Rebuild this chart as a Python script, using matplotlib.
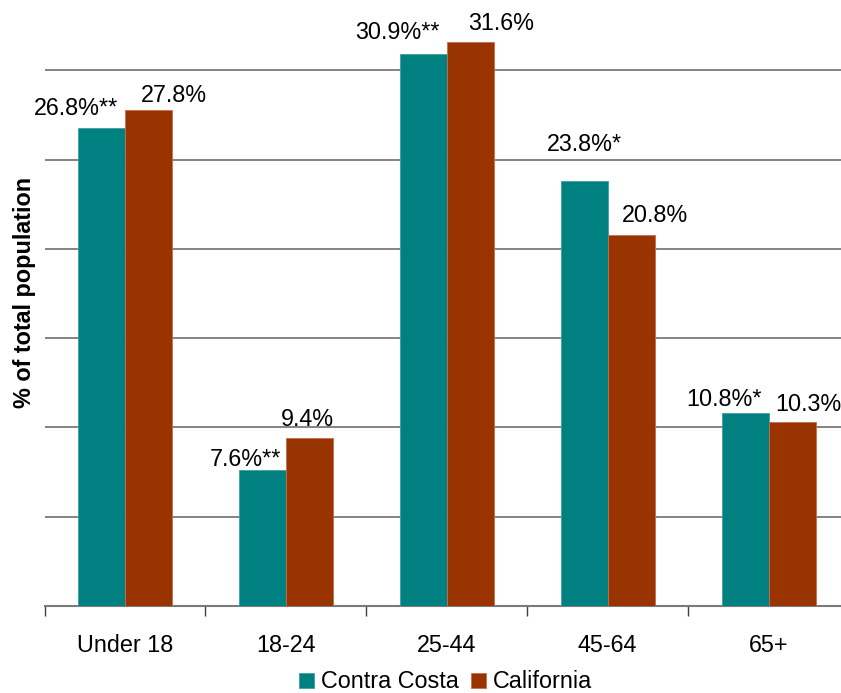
import numpy as np
import matplotlib
matplotlib.use('Agg')
import matplotlib.pyplot as plt
from matplotlib.ticker import FixedLocator, NullFormatter

plt.rcParams['font.family'] = ['Liberation Sans', 'DejaVu Sans']

# dados: grupos etários, Contra Costa x Califórnia
faixas = ['Under 18', '18-24', '25-44', '45-64', '65+']
contra_costa = [26.8, 7.6, 30.9, 23.8, 10.8]
california = [27.8, 9.4, 31.6, 20.8, 10.3]
marcas_cc = ['**', '**', '**', '*', '*']
marcas_ca = ['', '', '', '', '']

cor_cc = '#008080'
cor_ca = '#993300'
fs = 16.8

# deslocamento dos rótulos (pixels) em relação ao topo de cada barra
dx_cc = [-25, -17, -26, 0, -21]
dy_cc = [19, 11, 22, 37, 14]
dx_ca = [25, -2, 31, 24, 16]
dy_ca = [14, 19, 18, 19, 18]

fig = plt.figure(figsize=(8.41, 6.93), dpi=100)
ax = fig.add_axes([44.5/841, 87/693, 804.5/841, 607/693])

x = np.arange(len(faixas))
w = 0.292
b1 = ax.bar(x - w/2, contra_costa, w, color=cor_cc, edgecolor='#3fa0a0', linewidth=0.6, zorder=3)
b2 = ax.bar(x + w/2, california, w, color=cor_ca, edgecolor='#c07050', linewidth=0.6, zorder=3)

for i in range(len(faixas)):
    ax.annotate(f'{contra_costa[i]:.1f}%' + marcas_cc[i], (x[i] - w/2, contra_costa[i]),
                xytext=(dx_cc[i], dy_cc[i]), textcoords='offset pixels',
                ha='center', va='center', fontsize=fs, annotation_clip=False)
    ax.annotate(f'{california[i]:.1f}%' + marcas_ca[i], (x[i] + w/2, california[i]),
                xytext=(dx_ca[i], dy_ca[i]), textcoords='offset pixels',
                ha='center', va='center', fontsize=fs, annotation_clip=False)

ax.set_xlim(-0.5, len(faixas) - 0.5)
ax.set_ylim(0, 34)

# linhas de grade a cada 5%
ax.set_yticks(np.arange(5, 35, 5))
ax.yaxis.set_major_formatter(NullFormatter())
ax.tick_params(axis='y', length=0)
ax.grid(axis='y', color='#7a7a7a', linewidth=1.3, zorder=0)

ax.set_xticks(x)
ax.set_xticklabels(faixas, fontsize=fs)
ax.xaxis.set_minor_locator(FixedLocator(np.arange(-0.5, len(faixas), 1.0)))
ax.tick_params(axis='x', which='major', length=0, pad=20)
ax.tick_params(axis='x', which='minor', length=7, width=1, color='#404040')

for s in ['top', 'right', 'left']:
    ax.spines[s].set_visible(False)
ax.spines['bottom'].set_color('#7a7a7a')
ax.spines['bottom'].set_linewidth(1.5)

ax.set_ylabel('% of total population', fontsize=fs, fontweight='bold', va='center')
ax.yaxis.set_label_coords(-20.5/804.5, 0.516)

fig.legend([b1, b2], ['Contra Costa', 'California'], loc='center',
           bbox_to_anchor=(445.5/841, 11/693), ncol=2, frameon=False, fontsize=fs,
           handlelength=0.67, handleheight=0.62, handletextpad=0.29,
           columnspacing=0.5, borderpad=0, borderaxespad=0)

fig.savefig('out.png', dpi=100)
